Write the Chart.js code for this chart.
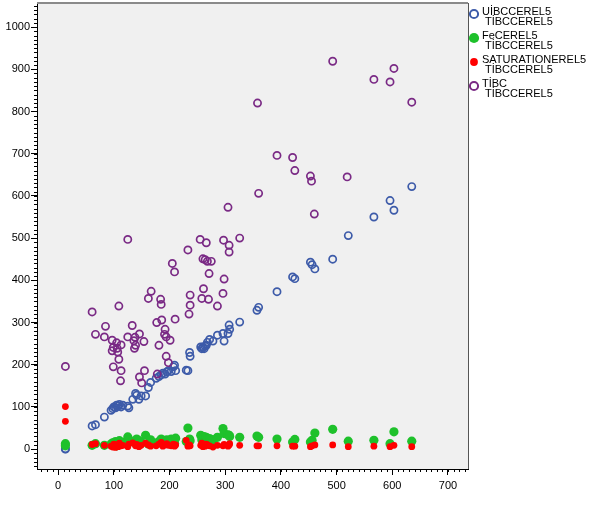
<!DOCTYPE html>
<html>
<head>
<meta charset="utf-8">
<script src="https://cdn.jsdelivr.net/npm/chart.js@4.4.1/dist/chart.umd.min.js"></script>
<style>
  html, body { margin: 0; padding: 0; background: #fff; }
  #wrap { width: 602px; height: 532px; position: relative; }
</style>
</head>
<body>
<div id="wrap"><canvas id="chart" width="602" height="532"></canvas></div>
<script>
// tick labels
const xTicks = [0, 100, 200, 300, 400, 500, 600, 700];
const yTicks = [0, 100, 200, 300, 400, 500, 600, 700, 800, 900, 1000];

// legend names (two lines each)
const seriesNames = [
    ['UİBCCEREL5', 'TİBCCEREL5'],
    ['FeCEREL5', 'TİBCCEREL5'],
    ['SATURATIONEREL5', 'TİBCCEREL5'],
    ['TİBC', 'TİBCCEREL5']
];

// x = TIBCCEREL5 for UIBC / Fe / Saturation
const obsX = [13, 13, 61, 67, 83, 95, 98, 100, 103, 105, 108, 110, 113, 116, 125, 127, 134, 139, 141, 145,
    149, 157, 162, 166, 176, 181, 185, 188, 192, 195, 198, 203, 207, 209, 211, 230, 233, 236, 237, 256,
    258, 260, 262, 264, 266, 268, 272, 278, 286, 296, 298, 305, 307, 308, 326, 357, 360, 393, 421, 425,
    453, 456, 461, 493, 521, 567, 596, 603, 635];
const uibcY = [1, 0, 55, 58, 76, 92, 96, 100, 98, 104, 102, 106, 100, 104, 102, 98, 118, 132, 128, 118,
    126, 126, 146, 158, 168, 172, 176, 180, 178, 183, 186, 184, 195, 199, 186, 187, 186, 229, 220, 242,
    238, 242, 238, 244, 246, 253, 260, 256, 270, 274, 256, 274, 294, 284, 301, 329, 336, 373, 408, 404,
    443, 437, 427, 450, 506, 550, 589, 566, 622];
const feY = [13, 8, 9, 13, 9, 12, 15, 10, 18, 8, 14, 20, 12, 16, 29, 22, 18, 14, 24, 20,
    16, 33, 12, 22, 14, 18, 24, 20, 16, 22, 18, 24, 20, 14, 26, 18, 50, 24, 20, 33,
    22, 26, 30, 20, 28, 24, 25, 22, 28, 49, 37, 34, 33, 30, 28, 31, 28, 24, 17, 23,
    17, 21, 38, 47, 19, 21, 13, 41, 19];
const satY = [101, 66, 11, 13, 9, 7, 5, 12, 4, 10, 6, 14, 8, 9, 6, 12, 15, 8, 11, 6,
    9, 14, 10, 7, 8, 12, 16, 7, 10, 13, 9, 8, 12, 7, 10, 21, 7, 10, 8, 9,
    14, 6, 11, 7, 12, 10, 8, 5, 9, 8, 11, 7, 10, 13, 9, 8, 8, 8, 7, 7,
    6, 8, 10, 10, 6, 7, 6, 9, 6];

// TIBC vs TIBCCEREL5
const tibcX = [13, 61, 67, 83, 85, 97, 97, 99, 99, 105, 106, 107, 109, 109, 112, 113, 113, 125, 125, 133,
    136, 137, 138, 139, 146, 146, 150, 154, 155, 162, 167, 177, 178, 181, 184, 185, 186, 191, 192, 194,
    194, 198, 201, 205, 209, 210, 233, 235, 237, 237, 255, 258, 260, 261, 264, 266, 268, 270, 271, 275,
    286, 296, 297, 298, 305, 307, 307, 326, 358, 360, 393, 421, 425, 453, 455, 460, 493, 519, 567, 596,
    603, 635];
const tibcY = [196, 325, 272, 266, 291, 258, 233, 241, 195, 252, 239, 230, 339, 213, 162, 247, 186, 497, 266, 293,
    257, 239, 265, 246, 273, 171, 157, 255, 186, 357, 374, 300, 178, 246, 355, 343, 306, 272, 284, 266,
    220, 205, 258, 440, 420, 308, 472, 320, 365, 341, 497, 357, 451, 380, 449, 489, 445, 355, 416, 445,
    339, 369, 495, 403, 573, 483, 467, 500, 820, 606, 696, 691, 660, 647, 635, 557, 919, 645, 876, 870,
    902, 822];

const colors = ['#3d5ba9', '#1ec12b', '#ff0000', '#7a2a85'];

function toPoints(xs, ys) {
    return xs.map((x, i) => ({ x: x, y: ys[i] }));
}

const plotBg = {
    id: 'plotBg',
    beforeDraw(chart) {
        const { ctx, chartArea: a } = chart;
        ctx.save();
        ctx.fillStyle = '#f0f0f0';
        ctx.fillRect(a.left, a.top, a.right - a.left, a.bottom - a.top);
        ctx.restore();
    },
    afterDatasetsDraw(chart) {
        const { ctx, chartArea: a, scales } = chart;
        ctx.save();
        // frame top / right
        ctx.strokeStyle = '#8a8a8a';
        ctx.lineWidth = 2;
        ctx.beginPath();
        ctx.moveTo(a.left, a.top);
        ctx.lineTo(a.right, a.top);
        ctx.stroke();
        ctx.strokeStyle = '#555';
        ctx.lineWidth = 1;
        ctx.beginPath();
        ctx.moveTo(a.right + 0.5, a.top);
        ctx.lineTo(a.right + 0.5, a.bottom);
        ctx.stroke();
        // minor ticks
        ctx.strokeStyle = '#000';
        ctx.beginPath();
        for (let v = Math.ceil(scales.x.min / 10) * 10; v <= scales.x.max; v += 10) {
            const px = Math.round(scales.x.getPixelForValue(v)) + 0.5;
            ctx.moveTo(px, a.bottom);
            ctx.lineTo(px, a.bottom + 3);
        }
        for (let v = Math.ceil(scales.y.min / 10) * 10; v <= scales.y.max; v += 10) {
            const py = Math.round(scales.y.getPixelForValue(v)) + 0.5;
            ctx.moveTo(a.left, py);
            ctx.lineTo(a.left - 3, py);
        }
        ctx.stroke();
        ctx.restore();
    },
    afterDraw(chart) {
        // legend on the right
        const { ctx } = chart;
        ctx.save();
        ctx.font = '11px "Liberation Sans", Arial, sans-serif';
        ctx.textBaseline = 'top';
        ctx.fillStyle = '#000';
        [0, 1, 2, 3].forEach(i => {
            const top = 6 + i * 24;
            const ds = chart.data.datasets[i];
            ctx.beginPath();
            ctx.arc(474, top + 8, ds.pointRadius + 0.5, 0, Math.PI * 2);
            if (ds.hollow) {
                ctx.strokeStyle = ds.borderColor;
                ctx.lineWidth = 2;
                ctx.stroke();
            } else {
                ctx.fillStyle = ds.backgroundColor;
                ctx.fill();
            }
            ctx.fillStyle = '#000';
            ctx.fillText(seriesNames[i][0], 482, top);
            ctx.fillText(seriesNames[i][1], 485, top + 10);
        });
        ctx.restore();
    }
};

const tickFont = { family: '"Liberation Sans", Arial, sans-serif', size: 11 };

new Chart(document.getElementById('chart').getContext('2d'), {
    type: 'scatter',
    data: {
        datasets: [
            { label: seriesNames[0].join(' '), data: toPoints(obsX, uibcY), hollow: true,
              borderColor: colors[0], backgroundColor: 'rgba(0,0,0,0)', pointRadius: 3.6, borderWidth: 1.7, order: 3 },
            { label: seriesNames[1].join(' '), data: toPoints(obsX, feY),
              borderColor: colors[1], backgroundColor: colors[1], pointRadius: 4.6, borderWidth: 0, order: 2 },
            { label: seriesNames[2].join(' '), data: toPoints(obsX, satY),
              borderColor: colors[2], backgroundColor: colors[2], pointRadius: 3.4, borderWidth: 0, order: 1 },
            { label: seriesNames[3].join(' '), data: toPoints(tibcX, tibcY), hollow: true,
              borderColor: colors[3], backgroundColor: 'rgba(0,0,0,0)', pointRadius: 3.6, borderWidth: 1.7, order: 0 }
        ]
    },
    options: {
        responsive: false,
        animation: false,
        layout: { autoPadding: false, padding: { top: 3, right: 134, left: 0, bottom: 0 } },
        plugins: { legend: { display: false }, tooltip: { enabled: false } },
        scales: {
            x: {
                type: 'linear', min: -38, max: 736,
                afterBuildTicks: s => { s.ticks = xTicks.map(v => ({ value: v })); },
                afterFit: s => { s.height = 63; s.paddingLeft = 0; s.paddingRight = 0; },
                grid: { drawOnChartArea: false, drawTicks: true, tickLength: 6, tickColor: '#000' },
                border: { display: true, color: '#000' },
                ticks: { color: '#000', padding: 4, maxRotation: 0, font: tickFont, callback: v => String(v) }
            },
            y: {
                type: 'linear', min: -47, max: 1057,
                afterBuildTicks: s => { s.ticks = yTicks.map(v => ({ value: v })); },
                afterFit: s => { s.width = 37; s.paddingTop = 0; s.paddingBottom = 0; },
                grid: { drawOnChartArea: false, drawTicks: true, tickLength: 6, tickColor: '#000' },
                border: { display: true, color: '#000' },
                ticks: { color: '#000', padding: 1, font: tickFont, callback: v => String(v) }
            }
        }
    },
    plugins: [plotBg]
});
</script>
</body>
</html>
